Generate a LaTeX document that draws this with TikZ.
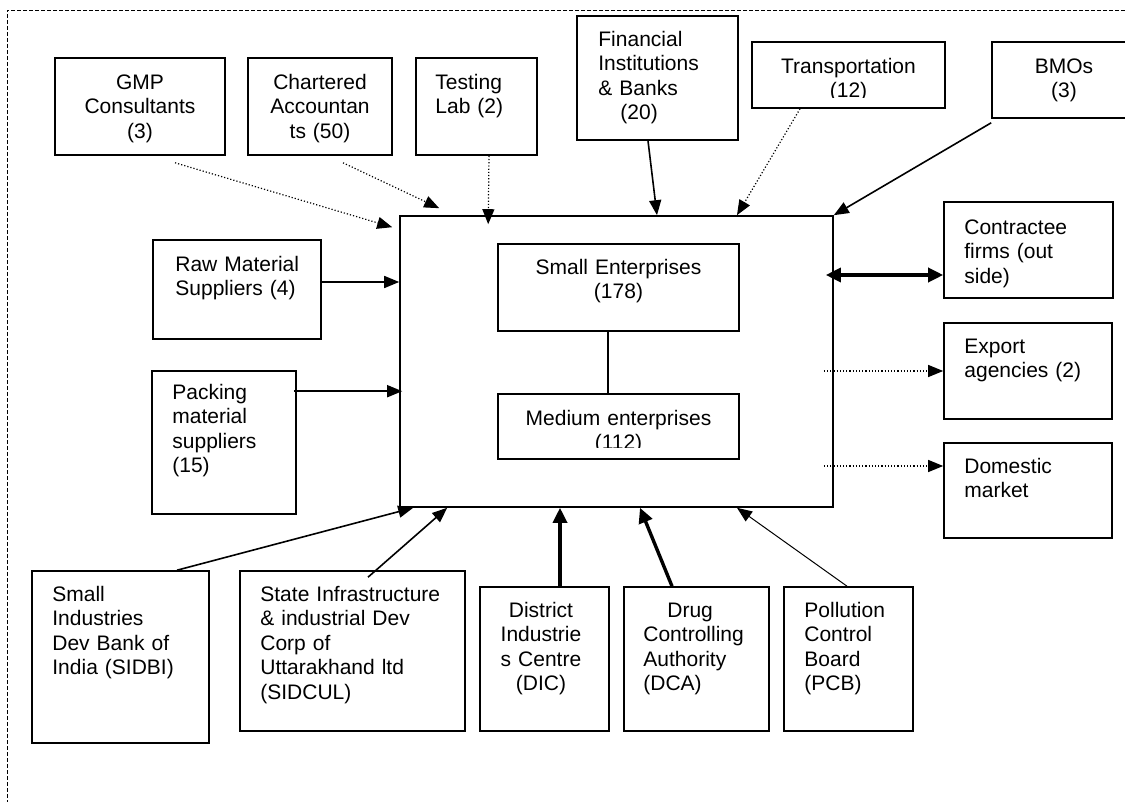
\documentclass[tikz,border=0pt]{standalone}
\usepackage{fontspec}
\setmainfont{Liberation Sans}
\usetikzlibrary{arrows.meta, calc}
\tikzset{
entity/.style={draw, line width=1.6pt, inner sep=0pt}, % frame of every stakeholder box
boxtext/.style={inner sep=0pt, text width=260pt, font=\fontsize{21pt}{24.5pt}\selectfont}, % text set inside a box
lefttext/.style={boxtext, align=left, anchor=base west}, % left aligned box text
midtext/.style={boxtext, align=center, anchor=base}, % centred box text
feed/.style={line width=1.6pt, -{Triangle[length=15pt, width=12pt]}}, % plain link
loose/.style={line width=1.2pt, dotted, -{Triangle[length=15pt, width=12pt]}}, % weak link
strong/.style={line width=3.4pt, -{Triangle[length=15pt, width=14pt]}}, % strong link
twoway/.style={line width=3.4pt, {Triangle[length=15pt, width=14pt]}-{Triangle[length=15pt, width=14pt]}}, % link both ways
link/.style={line width=1.3pt}, % plain line, no head
frame/.style={line width=0.8pt, dash pattern=on 4pt off 2pt}, % dashed outer border
}
\begin{document}
\begin{tikzpicture}[x=1pt, y=-1pt]
\path[use as bounding box, fill=white] (0,0) rectangle (1125,802);
\draw[frame] (1125,10) -- (7,10) -- (7,802);

% top row
\node[entity, minimum width=170pt, minimum height=97pt] (gmp) at (140,106.5) {};
\node[midtext] (gmptext) at ($(gmp.north)+(0,32)$) {GMP\\Consultants\\(3)};
\node[entity, minimum width=144pt, minimum height=97pt] (ca) at (320,106.5) {};
\node[midtext] (catext) at ($(ca.north)+(0,32)$) {Chartered\\Accountan\\ts (50)};
\node[entity, minimum width=121pt, minimum height=97pt] (lab) at (476.5,106.5) {};
\node[lefttext] (labtext) at ($(lab.north west)+(20,32)$) {Testing\\Lab (2)};
\node[entity, minimum width=161pt, minimum height=124pt] (fin) at (657.5,78) {};
\node[lefttext] (fintext) at ($(fin.north west)+(22,31)$) {Financial\\Institutions\\\& Banks\\\hspace*{22pt}(20)};
\node[entity, minimum width=193pt, minimum height=66pt] (trans) at (848.5,75) {};
\begin{scope}
\clip (trans.north west) rectangle ($(trans.south east)+(0,-11)$);
\node[midtext] (transtext) at ($(trans.north)+(0,32)$) {Transportation\\(12)};
\end{scope}
\node[entity, minimum width=144pt, minimum height=76pt] (bmo) at (1064,80) {};
\node[midtext] (bmotext) at ($(bmo.north)+(0,32)$) {BMOs\\(3)};

% suppliers and the cluster
\node[entity, minimum width=168pt, minimum height=99pt] (raw) at (237,289.5) {};
\node[lefttext] (rawtext) at ($(raw.north west)+(23,32)$) {Raw Material\\Suppliers (4)};
\node[entity, minimum width=144pt, minimum height=143pt] (pack) at (224,442.5) {};
\node[lefttext] (packtext) at ($(pack.north west)+(21,29)$) {Packing\\material\\suppliers\\(15)};
\node[entity, minimum width=433pt, minimum height=291pt] (msme) at (616.5,361.5) {};
\node[entity, minimum width=241pt, minimum height=87pt] (small) at (618.5,287.5) {};
\node[midtext] (smalltext) at ($(small.north)+(0,31)$) {Small Enterprises\\(178)};
\node[entity, minimum width=241pt, minimum height=65pt] (medium) at (618.5,426.5) {};
\begin{scope}
\clip (medium.north west) rectangle ($(medium.south east)+(0,-12)$);
\node[midtext] (mediumtext) at ($(medium.north)+(0,32)$) {Medium enterprises\\(112)};
\end{scope}

% markets
\node[entity, minimum width=169pt, minimum height=96pt] (contr) at (1028.5,250) {};
\node[lefttext] (contrtext) at ($(contr.north west)+(21,33)$) {Contractee\\firms (out\\side)};
\node[entity, minimum width=168pt, minimum height=96pt] (export) at (1028,371) {};
\node[lefttext] (exporttext) at ($(export.north west)+(21,31)$) {Export\\agencies (2)};
\node[entity, minimum width=168pt, minimum height=95pt] (dom) at (1028,490.5) {};
\node[lefttext] (domtext) at ($(dom.north west)+(21,31)$) {Domestic\\market};

% support institutions
\node[entity, minimum width=177pt, minimum height=172pt] (sidbi) at (120.5,657) {};
\node[lefttext] (sidbitext) at ($(sidbi.north west)+(21,31)$) {Small\\Industries\\Dev Bank of\\India (SIDBI)};
\node[entity, minimum width=225pt, minimum height=160pt] (sidcul) at (352.5,651) {};
\node[lefttext] (sidcultext) at ($(sidcul.north west)+(21,31)$) {State Infrastructure\\\& industrial Dev\\Corp of\\Uttarakhand ltd\\(SIDCUL)};
\node[entity, minimum width=129pt, minimum height=144pt] (dic) at (544.5,659) {};
\node[midtext] (dictext) at ($(dic.north)+(-3.5,31)$) {District\\Industrie\\s Centre\\(DIC)};
\node[entity, minimum width=145pt, minimum height=144pt] (dca) at (696.5,659) {};
\node[lefttext] (dcatext) at ($(dca.north west)+(20,31)$) {\hspace*{24pt}Drug\\Controlling\\Authority\\(DCA)};
\node[entity, minimum width=129pt, minimum height=144pt] (pcb) at (848.5,659) {};
\node[lefttext] (pcbtext) at ($(pcb.north west)+(21,31)$) {Pollution\\Control\\Board\\(PCB)};

% links into the cluster
\draw[loose] ($(gmp.south)+(35,7)$) -- ($(msme.north west)+(-7,12)$);
\draw[loose] ($(ca.south)+(23,7)$) -- ($(msme.north west)+(40,-7)$);
\draw[loose] ($(lab.south)+(12.5,0)$) -- ($(msme.north west)+(89,9)$);
\draw[feed] ($(fin.south)+(-9.5,0)$) -- ($(msme.north)+(40.5,0)$);
\draw[loose] ($(trans.south)+(-48.5,0)$) -- ($(msme.north)+(120.5,0)$);
\draw[feed] ($(bmo.south west)+(0,4)$) -- (msme.north east);
\coordinate (rawout) at ($(raw.east)+(0,-7.5)$);
\draw[feed] (rawout) -- (rawout -| msme.west);
\coordinate (packout) at ($(pack.north east)+(-3,21)$);
\draw[feed] (packout) -- ($(packout -| msme.west)+(3,0)$);
\draw[link] ($(small.south)+(-10.5,0)$) -- ($(medium.north)+(-10.5,0)$);

% links out of the cluster
\coordinate (contrin) at ($(contr.west)+(0,25)$);
\draw[twoway] ($(contrin -| msme.east)+(-8,0)$) -- (contrin);
\draw[loose] ($(export.west -| msme.east)+(-10,0)$) -- (export.west);
\coordinate (domin) at ($(dom.west)+(0,-24.5)$);
\draw[loose] ($(domin -| msme.east)+(-10,0)$) -- (domin);

% links from below
\draw[feed] ($(sidbi.north)+(56.5,0)$) -- ($(msme.south west)+(14,0)$);
\draw[feed] ($(sidcul.north)+(15.5,7)$) -- ($(msme.south west)+(48,0)$);
\draw[strong] ($(dic.north)+(15.5,0)$) -- ($(msme.south)+(-56.5,0)$);
\draw[strong] ($(dca.north)+(-24.5,0)$) -- ($(msme.south)+(23.5,0)$);
\draw[feed, line width=1pt] ($(pcb.north)+(-1.5,0)$) -- ($(msme.south)+(120.5,0)$);
\end{tikzpicture}
\end{document}
